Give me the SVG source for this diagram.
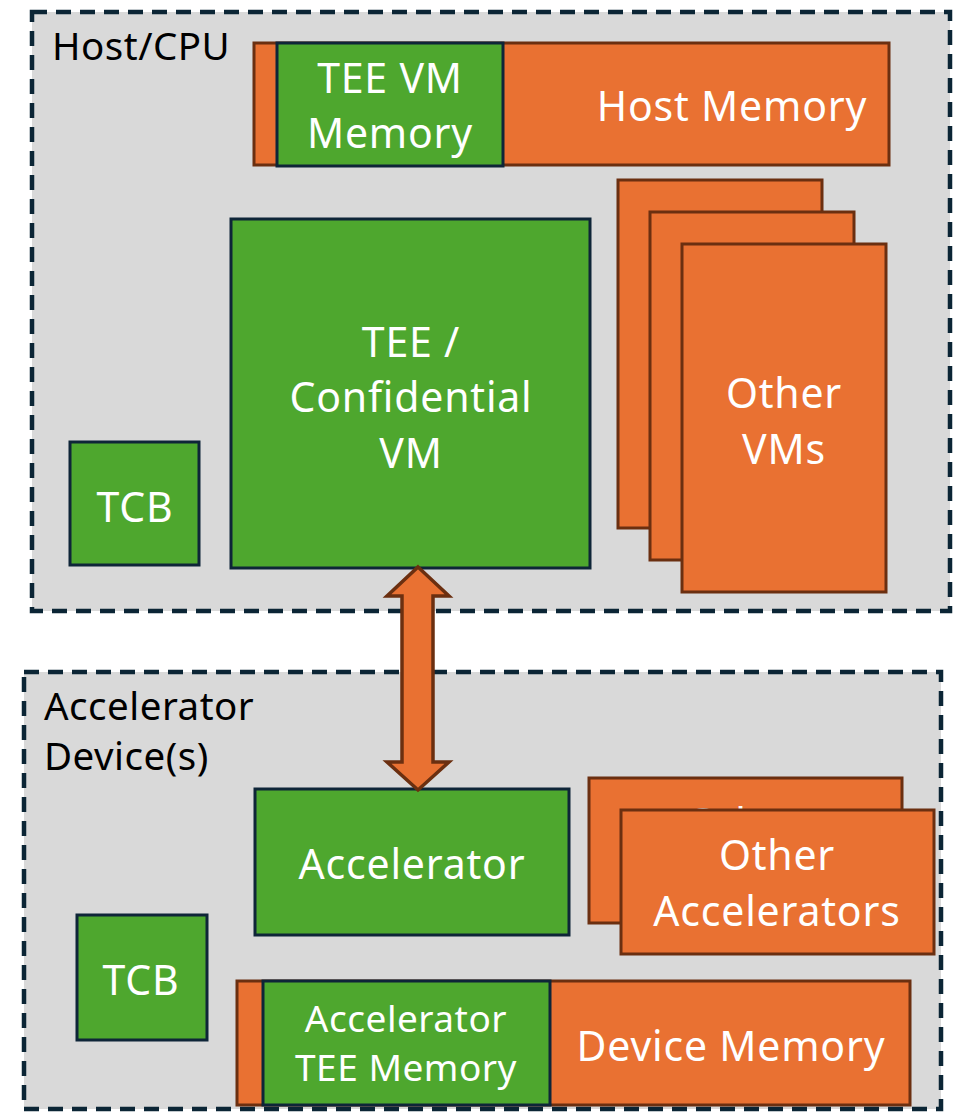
<svg xmlns="http://www.w3.org/2000/svg" width="961" height="1112" viewBox="0 0 961 1112">
<style>
.cont{fill:#d9d9d9;stroke:#0b2535;stroke-width:4.5;stroke-dasharray:15 9}
.g{fill:#4ea72e;stroke:#0e2538;stroke-width:3}
.o{fill:#e97132;stroke:#6b2f10;stroke-width:3}
text{font-family:"Noto Sans","Open Sans","Liberation Sans",sans-serif}
.w{fill:#ffffff;font-size:41px;letter-spacing:0.8px;text-anchor:middle}
.ws{fill:#ffffff;font-size:37px;letter-spacing:0.5px;text-anchor:middle}
.lbl{fill:#000000;font-size:38.5px;letter-spacing:0.5px}
</style>
<rect width="961" height="1112" fill="#ffffff"/>
<g id="host">
<rect class="cont" x="32" y="12" width="918" height="599"/>
<text class="lbl" x="52" y="60">Host/CPU</text>
</g>
<g id="accel-dev">
<rect class="cont" x="24" y="672" width="917" height="437"/>
<text class="lbl" x="44" y="720">Accelerator</text>
<text class="lbl" x="44" y="770">Device(s)</text>
</g>
<g id="host-memory">
<rect class="o" x="254" y="43" width="635" height="122"/>
<text class="w" x="732" y="121">Host Memory</text>
</g>
<g id="tee-vm-memory">
<rect class="g" x="277" y="43" width="226" height="123"/>
<text class="w" x="390" y="93">TEE VM</text>
<text class="w" x="390" y="148">Memory</text>
</g>
<g id="tee-vm">
<rect class="g" x="231" y="219" width="359" height="349"/>
<text class="w" x="411" y="357">TEE /</text>
<text class="w" x="411" y="412">Confidential</text>
<text class="w" x="411" y="468">VM</text>
</g>
<g id="tcb-host">
<rect class="g" x="70" y="442" width="129" height="123"/>
<text class="w" x="135" y="522">TCB</text>
</g>
<g id="other-vms">
<rect class="o" x="618" y="180" width="204" height="348"/>
<rect class="o" x="650" y="212" width="204" height="348"/>
<rect class="o" x="682" y="244" width="204" height="348"/>
<text class="w" x="784" y="408">Other</text>
<text class="w" x="784" y="464">VMs</text>
</g>
<g id="accelerator">
<rect class="g" x="255" y="789" width="314" height="146"/>
<text class="w" x="412" y="879">Accelerator</text>
</g>
<g id="other-accelerators">
<rect class="o" x="589" y="778" width="313" height="145"/>
<text class="w" x="745" y="838">Other</text>
<text class="w" x="745" y="894">Accelerators</text>
<rect class="o" x="621" y="810" width="313" height="144"/>
<text class="w" x="777" y="870">Other</text>
<text class="w" x="777" y="926">Accelerators</text>
</g>
<g id="tcb-device">
<rect class="g" x="77" y="915" width="130" height="125"/>
<text class="w" x="141" y="995">TCB</text>
</g>
<g id="device-memory">
<rect class="o" x="237" y="981" width="673" height="124"/>
<text class="w" x="731" y="1061">Device Memory</text>
</g>
<g id="accel-tee-memory">
<rect class="g" x="263" y="981" width="287" height="124"/>
<text class="ws" x="406" y="1032">Accelerator</text>
<text class="ws" x="406" y="1081">TEE Memory</text>
</g>
<g id="connectors">
<path d="M418 567 L449 596 L433 596 L433 762 L449 762 L418 790 L387 762 L402 762 L402 596 L387 596 Z" fill="#e97132" stroke="#6b2f10" stroke-width="3.5" stroke-linejoin="miter"/>
</g>
</svg>
